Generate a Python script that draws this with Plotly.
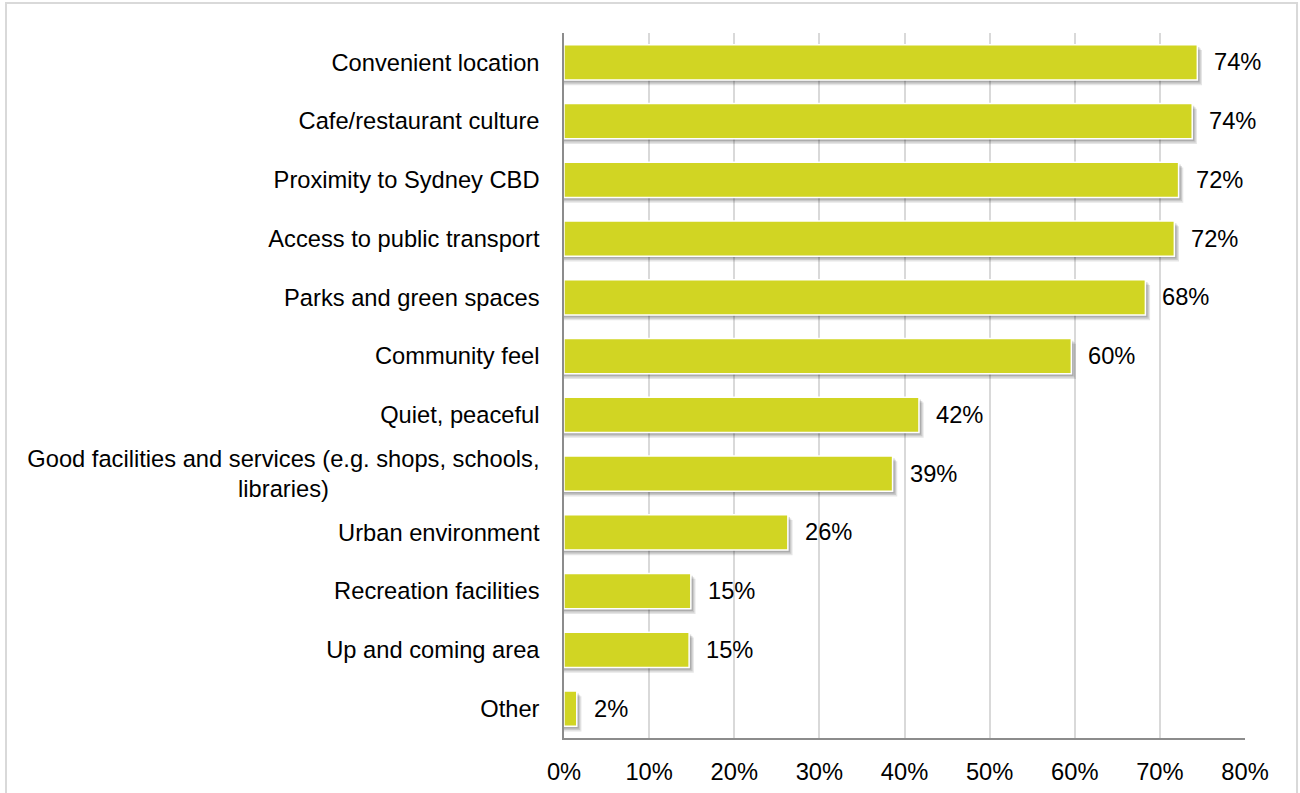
import plotly.graph_objects as go

# Survey: reasons for living in the area (share of respondents, %)
reasons = [
    "Convenient location",
    "Cafe/restaurant culture",
    "Proximity to Sydney CBD",
    "Access to public transport",
    "Parks and green spaces",
    "Community feel",
    "Quiet, peaceful",
    "Good facilities and services (e.g. shops, schools,<br>libraries)" + "\u00a0" * 32,
    "Urban environment",
    "Recreation facilities",
    "Up and coming area",
    "Other",
]
shares = [74.4, 73.8, 72.2, 71.7, 68.3, 59.6, 41.7, 38.6, 26.3, 14.9, 14.7, 1.5]

x_ticks = [0, 10, 20, 30, 40, 50, 60, 70, 80]
x_tick_labels = [f"{t}%" for t in x_ticks]

BAR_COLOR = "#D1D523"
FONT = "Liberation Sans, Arial, sans-serif"
FS = 23.7
BAR_W = 0.6

fig = go.Figure()

# soft drop shadow: a few translucent layers shifted right/down
for dx, dy, a in [(0.55, 0.09, 0.10), (0.40, 0.065, 0.12), (0.25, 0.04, 0.14)]:
    fig.add_trace(go.Bar(
        y=reasons, x=[v + dx for v in shares], orientation="h",
        width=BAR_W, offset=-BAR_W / 2 + dy,
        marker=dict(color=f"rgba(0,0,0,{a})", line=dict(width=0)),
        hoverinfo="skip", showlegend=False,
    ))

fig.add_trace(go.Bar(
    y=reasons, x=shares, orientation="h",
    width=BAR_W, offset=-BAR_W / 2,
    marker=dict(color=BAR_COLOR, line=dict(color="white", width=1.5)),
    showlegend=False,
    hovertemplate="%{x:.0f}%<extra></extra>",
))

# value labels to the right of each bar
for cat, v in zip(reasons, shares):
    fig.add_annotation(
        x=v, y=cat, text=f"{v:.0f}%", showarrow=False,
        xanchor="left", yanchor="middle", xshift=15,
        font=dict(family=FONT, size=FS, color="#000000"),
    )

# light frame around the whole chart
fig.add_shape(
    type="rect", xref="paper", yref="paper",
    x0=-0.8194, x1=1.0764, y0=-0.12, y1=1.0426,
    line=dict(color="#D9D9D9", width=2), layer="below",
)

fig.update_layout(
    width=1300, height=793,
    margin=dict(l=564, r=55, t=33, b=55),
    paper_bgcolor="white", plot_bgcolor="white",
    barmode="overlay",
    font=dict(family=FONT, size=FS, color="#000000"),
    xaxis=dict(
        range=[0, 80], tickmode="array", tickvals=x_ticks, ticktext=x_tick_labels,
        showgrid=True, gridcolor="#D9D9D9", gridwidth=1.5,
        showline=True, linecolor="#8C8C8C", linewidth=1.5,
        zeroline=False, ticks="", ticklabelstandoff=12, automargin=False,
        tickfont=dict(family=FONT, size=FS, color="#000000"),
    ),
    yaxis=dict(
        autorange="reversed", showgrid=False,
        showline=True, linecolor="#8C8C8C", linewidth=1.5,
        ticks="", ticklabelstandoff=18, automargin=False,
        tickfont=dict(family=FONT, size=FS, color="#000000"),
    ),
)

fig.write_html("out.html")
